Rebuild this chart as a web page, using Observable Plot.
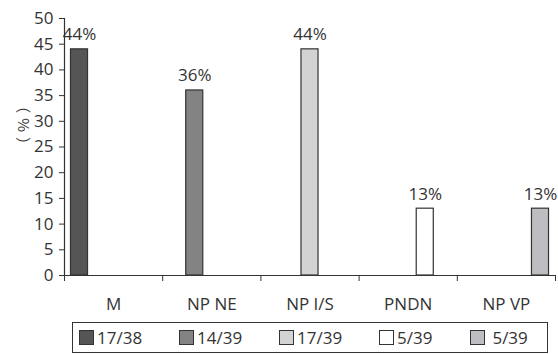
<!DOCTYPE html>
<html>
<head>
<meta charset="utf-8">
<script src="https://cdn.jsdelivr.net/npm/d3@7"></script>
<script src="https://cdn.jsdelivr.net/npm/@observablehq/plot@0.6"></script>
<style>
  html, body { margin: 0; padding: 0; background: #fff; }
  #wrap { position: relative; width: 558px; height: 354px; overflow: hidden; font-family: 'Open Sans', sans-serif; color: #333; }
  #chart { position: absolute; left: 0; top: 0; }
  #legend { position: absolute; left: 72px; top: 322px; width: 476px; height: 31px; border: 1px solid #333; display: flex; align-items: center; padding-left: 6px; box-sizing: border-box; font-size: 17px; }
  .item { display: flex; align-items: center; width: 100px; }
  .item:last-child { width: auto; margin-left: -9px; }
  .sw { width: 13px; height: 13px; border: 1px solid #333; margin-right: 3px; flex: none; }
</style>
</head>
<body>
<div id="wrap">
  <div id="chart"></div>
  <div id="legend"></div>
</div>
<script>
const categories = ["M", "NP NE", "NP I/S", "PNDN", "NP VP"];
const series = ["17/38", "14/39", "17/39", "5/39", " 5/39"];
const values = [44, 36, 44, 13, 13];
const valueLabels = ["44%", "36%", "44%", "13%", "13%"];
const colors = ["#555555", "#838383", "#d3d3d3", "#ffffff", "#bebec2"];
const yTicks = [0, 5, 10, 15, 20, 25, 30, 35, 40, 45, 50];
const yLabel = "（%）";

const nSlots = series.length;
const gap = 0.066, slotW = (1 - 2 * gap) / nSlots;
const data = categories.map((c, i) => ({
  cat: i, slot: i, value: values[i], label: valueLabels[i], color: colors[i]
}));
const x1 = d => d.cat + gap + d.slot * slotW;
const x2 = d => d.cat + gap + (d.slot + 1) * slotW;
const xc = d => d.cat + gap + (d.slot + 0.5) * slotW;

const plot = Plot.plot({
  width: 558, height: 316,
  marginLeft: 64, marginRight: 3, marginTop: 18, marginBottom: 41,
  x: {domain: [0, categories.length]},
  y: {domain: [0, 50]},
  color: {type: "identity"},
  style: {fontFamily: "'Open Sans', sans-serif", fontSize: "17px", color: "#333", background: "white"},
  marks: [
    Plot.rect(data, {x1, x2, y1: 0, y2: "value", fill: "color", stroke: "#333", strokeWidth: 1.2}),
    Plot.ruleY([0], {stroke: "#333", strokeWidth: 1.2}),
    Plot.ruleX([0], {stroke: "#333", strokeWidth: 1.2}),
    Plot.axisY({ticks: yTicks, tickSize: 5, tickPadding: 6, fontSize: 17, label: null}),
    Plot.axisX({ticks: d3.range(categories.length + 1), tickSize: 6, tickFormat: () => "", label: null}),
    Plot.axisX({ticks: categories.map((c, i) => i + 0.5), tickSize: 0, tickPadding: 22, fontSize: 17,
      tickFormat: d => categories[Math.floor(d)], label: null}),
    Plot.text(data, {x: xc, y: "value", text: "label", dy: -9, dx: 0, lineAnchor: "bottom", fontSize: 17}),
    Plot.text([yLabel], {frameAnchor: "left", rotate: -90, dx: -40, dy: 5, fontSize: 15,
      fontFamily: "'Noto Sans CJK JP', 'Noto Sans CJK SC', sans-serif"})
  ]
});
document.getElementById("chart").appendChild(plot);
plot.querySelectorAll("text").forEach(t => {
  if (t.textContent === yLabel) t.style.letterSpacing = "5px";
});

const legend = document.getElementById("legend");
series.forEach((s, i) => {
  const item = document.createElement("div");
  item.className = "item";
  const sw = document.createElement("div");
  sw.className = "sw";
  sw.style.background = colors[i];
  const t = document.createElement("span");
  t.textContent = s;
  t.style.whiteSpace = "pre";
  item.appendChild(sw);
  item.appendChild(t);
  legend.appendChild(item);
});
</script>
</body>
</html>
